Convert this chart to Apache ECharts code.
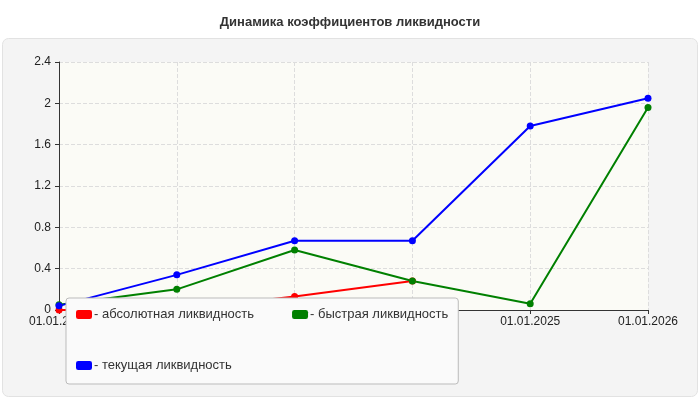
<!DOCTYPE html>
<html>
<head>
<meta charset="UTF-8">
<script src="https://cdn.jsdelivr.net/npm/echarts@6/dist/echarts.min.js"></script>
</head>
<body style="margin:0">
<div id="chart" style="width:700px;height:400px"></div>
<script>
    var dates = ['01.01.2021', '01.01.2022', '01.01.2023', '01.01.2024', '01.01.2025', '01.01.2026'];
    var absolute = [0, 0, 0.13, 0.28, null, null];
    var quick = [0.05, 0.2, 0.58, 0.28, 0.06, 1.96];
    var current = [0.04, 0.34, 0.67, 0.67, 1.78, 2.05];
    var names = ['- абсолютная ликвидность', '- быстрая ликвидность', '- текущая ликвидность'];

    var chart = echarts.init(document.getElementById('chart'));
    function line(name, data, color) {
        return {
            name: name, type: 'line', data: data, symbol: 'circle', symbolSize: 7,
            itemStyle: {color: color}, lineStyle: {color: color, width: 2}
        };
    }
    chart.setOption({
        textStyle: {fontFamily: 'Arial, Liberation Sans, sans-serif'},
        graphic: [{
            type: 'rect', left: 2, top: 38, z: -10,
            shape: {width: 695, height: 358, r: 6},
            style: {fill: '#f4f4f4', stroke: '#e2e2e2'}
        }],
        title: {
            text: 'Динамика коэффициентов ликвидности', left: 'center', top: 11,
            textStyle: {fontSize: 13, fontWeight: 'bold', color: '#333'}
        },
        legend: {
            bottom: 16, left: 66, width: 546, height: 18, padding: [10, 10, 12, 10],
            itemGap: 38, itemWidth: 16, itemHeight: 9, icon: 'roundRect',
            backgroundColor: '#fafafa', borderColor: '#bbb', borderWidth: 1, borderRadius: 3,
            textStyle: {fontSize: 13, color: '#333', padding: [0, 0, 0, -3]},
            data: names
        },
        grid: {left: 59, right: 52, top: 62, bottom: 90, backgroundColor: '#fbfbf6', show: true, borderWidth: 0},
        xAxis: {
            type: 'category', data: dates, boundaryGap: false,
            axisLine: {lineStyle: {color: '#333'}},
            axisTick: {show: true, length: 4, lineStyle: {color: '#333'}},
            axisLabel: {color: '#222', fontSize: 12, interval: 0, margin: 6},
            splitLine: {show: true, lineStyle: {color: '#ddd', type: 'dashed'}}
        },
        yAxis: {
            type: 'value', min: 0, max: 2.4, interval: 0.4,
            axisLine: {show: true, lineStyle: {color: '#333'}},
            axisTick: {show: true, length: 4, lineStyle: {color: '#333'}},
            axisLabel: {color: '#222', fontSize: 12, margin: 8, formatter: function (v) { return +v.toFixed(1); }},
            splitLine: {lineStyle: {color: '#ddd', type: 'dashed'}}
        },
        series: [
            line(names[0], absolute, '#ff0000'),
            line(names[1], quick, '#008000'),
            line(names[2], current, '#0000ff')
        ]
    });
</script>
</body>
</html>
